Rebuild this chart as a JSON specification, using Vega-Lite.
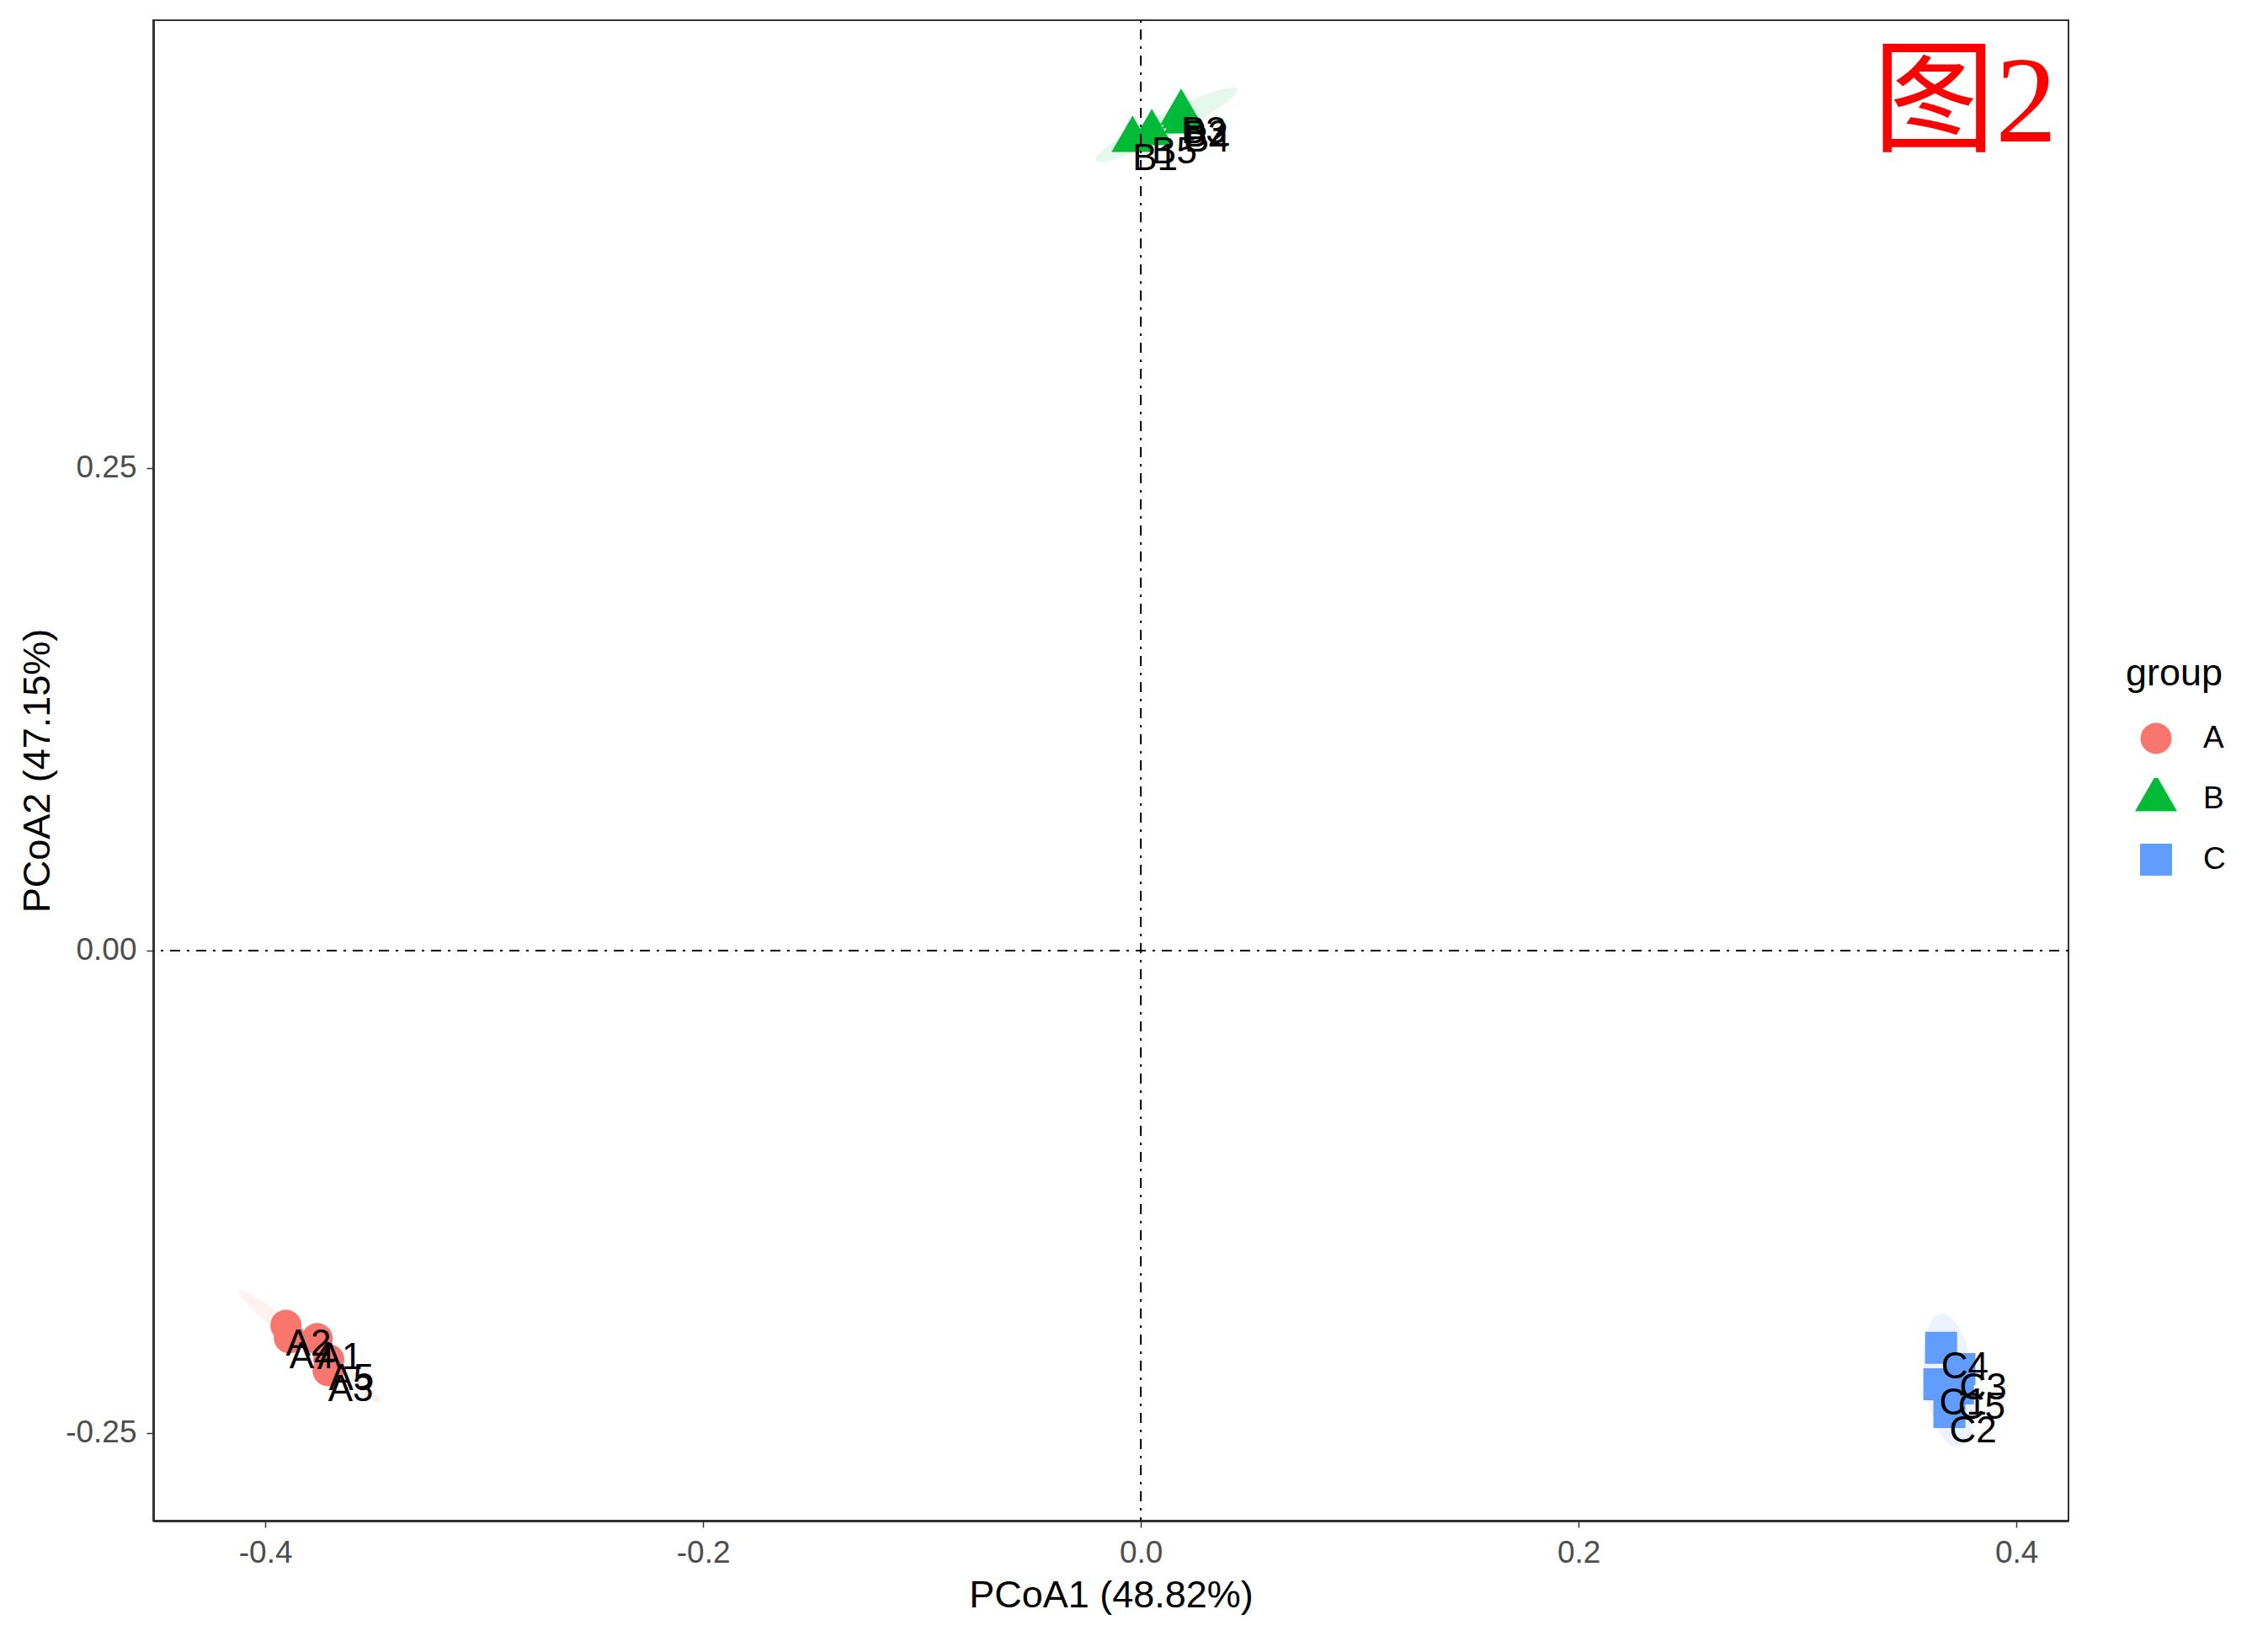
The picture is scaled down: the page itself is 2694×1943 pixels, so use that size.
{
  "$schema": "https://vega.github.io/schema/vega-lite/v6.json",
  "width": 2275,
  "height": 1782,
  "autosize": {"type": "none"},
  "padding": {"left": 182, "top": 24, "right": 237, "bottom": 137},
  "background": "white",
  "datasets": {
    "pts": [
      {"id": "A1", "group": "A", "PC1": -0.3763, "PC2": -0.2011},
      {"id": "A2", "group": "A", "PC1": -0.3906, "PC2": -0.1942},
      {"id": "A3", "group": "A", "PC1": -0.3713, "PC2": -0.2177},
      {"id": "A4", "group": "A", "PC1": -0.3890, "PC2": -0.2007},
      {"id": "A5", "group": "A", "PC1": -0.3710, "PC2": -0.2120},
      {"id": "B1", "group": "B", "PC1": -0.0038, "PC2": 0.4201},
      {"id": "B2", "group": "B", "PC1": 0.0192, "PC2": 0.4323},
      {"id": "B3", "group": "B", "PC1": 0.0184, "PC2": 0.4341},
      {"id": "B4", "group": "B", "PC1": 0.0200, "PC2": 0.4297},
      {"id": "B5", "group": "B", "PC1": 0.0050, "PC2": 0.4236},
      {"id": "C1", "group": "C", "PC1": 0.3648, "PC2": -0.2247},
      {"id": "C2", "group": "C", "PC1": 0.3694, "PC2": -0.2391},
      {"id": "C3", "group": "C", "PC1": 0.3740, "PC2": -0.2169},
      {"id": "C4", "group": "C", "PC1": 0.3656, "PC2": -0.2059},
      {"id": "C5", "group": "C", "PC1": 0.3733, "PC2": -0.2269}
    ]
  },
  "layer": [
    {
      "data": {"name": "pts"},
      "transform": [{"filter": "datum.group === 'A'"}],
      "mark": {"type": "point", "filled": true, "color": "#F8766D", "opacity": 0.1, "strokeWidth": 0, "size": 45796,
        "shape": "M0.7859,0.6184 C0.7517,0.6618 0.3723,0.4201 -0.0618,0.0786 C-0.4959,-0.2629 -0.8201,-0.5750 -0.7859,-0.6184 C-0.7517,-0.6618 -0.3723,-0.4201 0.0618,-0.0786 C0.4959,0.2629 0.8201,0.5750 0.7859,0.6184 Z"},
      "encoding": {
        "x": {"aggregate": "mean", "field": "PC1", "type": "quantitative", "title": "PCoA1 (48.82%)", "scale": {"domain": [-0.4512, 0.4238], "nice": false, "zero": false}},
        "y": {"aggregate": "mean", "field": "PC2", "type": "quantitative", "title": "PCoA2 (47.15%)", "scale": {"domain": [-0.2954, 0.4821], "nice": false, "zero": false}}
      }
    },
    {
      "data": {"name": "pts"},
      "transform": [{"filter": "datum.group === 'B'"}],
      "mark": {"type": "point", "filled": true, "color": "#00BA38", "opacity": 0.1, "strokeWidth": 0, "size": 35344,
        "shape": "M0.8926,-0.4509 C0.9299,-0.3770 0.5606,-0.1151 0.0676,0.1339 C-0.4254,0.3829 -0.8553,0.5248 -0.8926,0.4509 C-0.9299,0.3770 -0.5606,0.1151 -0.0676,-0.1339 C0.4254,-0.3829 0.8553,-0.5248 0.8926,-0.4509 Z"},
      "encoding": {
        "x": {"aggregate": "mean", "field": "PC1", "type": "quantitative", "title": "PCoA1 (48.82%)"},
        "y": {"aggregate": "mean", "field": "PC2", "type": "quantitative", "title": "PCoA2 (47.15%)"}
      }
    },
    {
      "data": {"name": "pts"},
      "transform": [{"filter": "datum.group === 'C'"}],
      "mark": {"type": "point", "filled": true, "color": "#619CFF", "opacity": 0.12, "strokeWidth": 0, "size": 25600,
        "shape": "M0.1253,0.9921 C-0.0775,1.0177 -0.2979,0.5943 -0.3671,0.0464 C-0.4363,-0.5015 -0.3281,-0.9665 -0.1253,-0.9921 C0.0775,-1.0177 0.2979,-0.5943 0.3671,-0.0464 C0.4363,0.5015 0.3281,0.9665 0.1253,0.9921 Z"},
      "encoding": {
        "x": {"aggregate": "mean", "field": "PC1", "type": "quantitative", "title": "PCoA1 (48.82%)"},
        "y": {"aggregate": "mean", "field": "PC2", "type": "quantitative", "title": "PCoA2 (47.15%)"}
      }
    },
    {
      "data": {"name": "pts"},
      "mark": {"type": "point", "filled": true, "opacity": 1, "strokeWidth": 0},
      "encoding": {
        "x": {"field": "PC1", "type": "quantitative", "title": "PCoA1 (48.82%)",
          "axis": {"values": [-0.4, -0.2, 0, 0.2, 0.4], "labelExpr": "replace(format(datum.value, '.1f'), '\u2212', '-')"}},
        "y": {"field": "PC2", "type": "quantitative", "title": "PCoA2 (47.15%)",
          "axis": {"values": [-0.25, 0, 0.25], "labelExpr": "replace(format(datum.value, '.2f'), '\u2212', '-')"}},
        "color": {"field": "group", "type": "nominal", "title": "group", "scale": {"domain": ["A", "B", "C"], "range": ["#F8766D", "#00BA38", "#619CFF"]}},
        "shape": {"field": "group", "type": "nominal", "title": "group", "scale": {"domain": ["A", "B", "C"], "range": ["circle", "M0,-1 L0.866,0.5 L-0.866,0.5 Z", "square"]}},
        "size": {"field": "group", "type": "nominal", "title": "group", "scale": {"type": "ordinal", "domain": ["A", "B", "C"], "range": [1369, 3333, 1444]}}
      }
    },
    {
      "data": {"values": [{"v": 0}]},
      "mark": {"type": "rule", "color": "black", "strokeWidth": 2, "strokeDash": [3, 8, 12, 8]},
      "encoding": {"x": {"field": "v", "type": "quantitative", "title": "PCoA1 (48.82%)"}}
    },
    {
      "data": {"values": [{"v": 0}]},
      "mark": {"type": "rule", "color": "black", "strokeWidth": 2, "strokeDash": [3, 8, 12, 8]},
      "encoding": {"y": {"field": "v", "type": "quantitative", "title": "PCoA2 (47.15%)"}}
    },
    {
      "data": {"name": "pts"},
      "mark": {"type": "text", "align": "left", "baseline": "top", "fontSize": 44, "font": "Liberation Sans", "color": "black", "dy": 1},
      "encoding": {
        "x": {"field": "PC1", "type": "quantitative", "title": "PCoA1 (48.82%)"},
        "y": {"field": "PC2", "type": "quantitative", "title": "PCoA2 (47.15%)"},
        "text": {"field": "id", "type": "nominal"}
      }
    },
    {
      "data": {"values": [{"PC1": 0.4185, "PC2": 0.4193, "label": "图2"}]},
      "mark": {"type": "text", "align": "right", "baseline": "alphabetic", "fontSize": 146, "font": "Liberation Serif, Noto Sans CJK SC", "color": "#FF0000"},
      "encoding": {
        "x": {"field": "PC1", "type": "quantitative", "title": "PCoA1 (48.82%)"},
        "y": {"field": "PC2", "type": "quantitative", "title": "PCoA2 (47.15%)"},
        "text": {"field": "label", "type": "nominal"}
      }
    }
  ],
  "config": {
    "view": {"stroke": "#333333", "strokeWidth": 2},
    "axis": {
      "grid": false,
      "domainColor": "#333333", "domainWidth": 3,
      "tickColor": "#333333", "tickSize": 8, "tickWidth": 1.5,
      "labelFont": "Liberation Sans", "labelFontSize": 37, "labelColor": "#4D4D4D", "labelPadding": 12,
      "titleFont": "Liberation Sans", "titleFontSize": 45, "titleFontWeight": "normal", "titleColor": "black", "titlePadding": 10
    },
    "legend": {
      "orient": "none", "legendX": 2343, "legendY": 754, "padding": 0,
      "titleFont": "Liberation Sans", "titleFontSize": 45, "titleFontWeight": "normal", "titleColor": "black", "titlePadding": 29,
      "labelFont": "Liberation Sans", "labelFontSize": 37, "labelColor": "black", "labelOffset": 26,
      "symbolOffset": 6, "rowPadding": 22, "clipHeight": 50
    }
  }
}
